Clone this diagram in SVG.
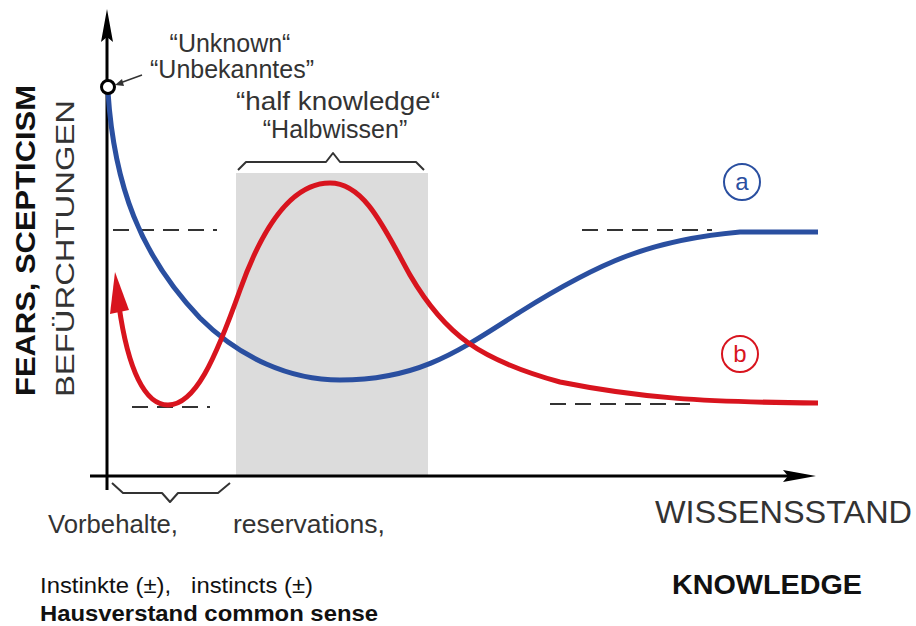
<svg xmlns="http://www.w3.org/2000/svg" width="916" height="626" viewBox="0 0 916 626">
<style>
.t{font-family:"Liberation Sans",Arial,sans-serif;fill:#333}
.b{font-weight:bold;fill:#111}
.dash{stroke:#333;stroke-width:2;stroke-dasharray:16 9;fill:none}
.brace{stroke:#333;stroke-width:2;fill:none;stroke-linejoin:round}
.axis{stroke:#000;stroke-width:3;fill:none}
</style>
<rect width="916" height="626" fill="#fff"/>
<g id="shade"><rect x="236" y="173" width="192" height="303" fill="#dcdcdc"/></g>
<g id="axes">
<line class="axis" x1="107" y1="490" x2="107" y2="30"/>
<polygon points="107,9 101,42 107,37 113,42" fill="#000"/>
<line class="axis" x1="90" y1="476" x2="795" y2="476"/>
<polygon points="816,476 783,470 788,476 783,482" fill="#000"/>
</g>
<g id="guides">
<line class="dash" x1="113" y1="230" x2="217" y2="230"/>
<line class="dash" x1="132" y1="407" x2="210" y2="407"/>
<line class="dash" x1="582" y1="230" x2="712" y2="230"/>
<line class="dash" x1="550" y1="404" x2="690" y2="404"/>
</g>
<g id="connectors">
<path id="curve-a" d="M108,92 C114,185 140,255 200,318 C240,358 290,380 340,380 C420,380 460,350 520,312 C600,262 650,240 740,232 L818,232" fill="none" stroke="#2a4fa0" stroke-width="5"/>
<path id="curve-b" d="M119,306 C128,370 145,405 168,405 C195,405 215,360 240,290 C265,220 295,183 330,183 C365,183 385,230 410,275 C445,335 480,360 560,382 C640,398 700,402 818,403" fill="none" stroke="#d8141e" stroke-width="5"/>
<polygon points="115,272 110,314 129,310" fill="#d8141e"/>
<line x1="142" y1="75" x2="120" y2="83" stroke="#333" stroke-width="1.5"/>
<polygon points="115,85 122,79 124,86" fill="#333"/>
</g>
<g id="origin"><circle cx="108" cy="87" r="6.5" fill="#fff" stroke="#000" stroke-width="3"/></g>
<g id="braces">
<path class="brace" d="M238,170 L246,162 L326,162 L333,153 L340,162 L416,162 L424,170"/>
<path class="brace" d="M112,483 L123,493 L162,493 L170,502 L178,493 L218,493 L230,483"/>
</g>
<g id="label-a"><circle cx="742" cy="182" r="18" fill="none" stroke="#2a4fa0" stroke-width="2"/><text class="t" x="742" y="190" font-size="24" text-anchor="middle" style="fill:#2a4fa0">a</text></g>
<g id="label-b"><circle cx="740" cy="354" r="18" fill="none" stroke="#d8141e" stroke-width="2"/><text class="t" x="740" y="362" font-size="24" text-anchor="middle" style="fill:#d8141e">b</text></g>
<g id="texts">
<text class="t" x="230" y="52" font-size="25" text-anchor="middle">“Unknown“</text>
<text class="t" x="232" y="78" font-size="25" text-anchor="middle">“Unbekanntes”</text>
<text class="t" x="338" y="110" font-size="25" text-anchor="middle" textLength="204" lengthAdjust="spacingAndGlyphs">“half knowledge“</text>
<text class="t" x="335" y="138" font-size="25" text-anchor="middle">“Halbwissen”</text>
<text class="t b" transform="translate(35,396) rotate(-90)" font-size="27" textLength="311" lengthAdjust="spacingAndGlyphs">FEARS, SCEPTICISM</text>
<text class="t" transform="translate(74,397) rotate(-90)" font-size="25" textLength="297" lengthAdjust="spacingAndGlyphs">BEFÜRCHTUNGEN</text>
<text class="t" x="48" y="533" font-size="25" textLength="130" lengthAdjust="spacingAndGlyphs">Vorbehalte,</text>
<text class="t" x="233" y="533" font-size="25" textLength="152" lengthAdjust="spacingAndGlyphs">reservations,</text>
<text class="t" x="655" y="523" font-size="31" textLength="257" lengthAdjust="spacingAndGlyphs">WISSENSSTAND</text>
<text class="t" x="40" y="593" font-size="22" style="fill:#111;white-space:pre" xml:space="preserve" textLength="273" lengthAdjust="spacingAndGlyphs">Instinkte (±),   instincts (±)</text>
<text class="t b" x="40" y="621" font-size="22" textLength="338" lengthAdjust="spacingAndGlyphs">Hausverstand common sense</text>
<text class="t b" x="672" y="594" font-size="28" textLength="190" lengthAdjust="spacingAndGlyphs">KNOWLEDGE</text>
</g>
</svg>
